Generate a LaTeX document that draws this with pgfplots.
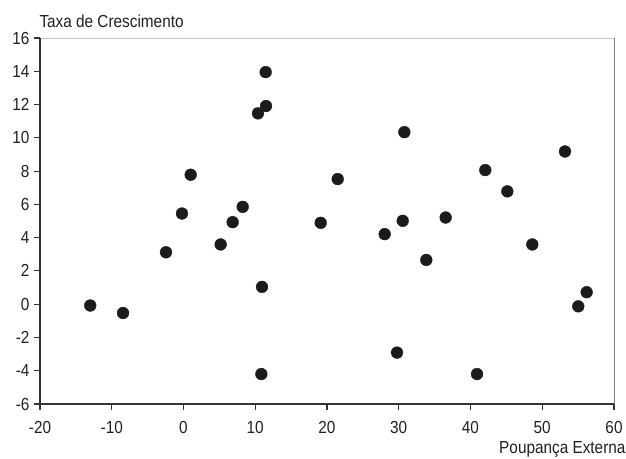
\documentclass[border=0pt]{standalone}
\usepackage{fontspec}
\setmainfont{Liberation Sans}[FakeStretch=0.88]
\usepackage{pgfplots}
\pgfplotsset{compat=1.18}
\definecolor{txt}{HTML}{231F20}
\definecolor{dot}{HTML}{1C1A1B}
\definecolor{axdark}{HTML}{333333}
\begin{document}
\begin{tikzpicture}
\path[use as bounding box] (-40bp,-55bp) rectangle (586bp,404bp);
\begin{axis}[
  at={(0,0)}, anchor=south west,
  width=574bp, height=366bp, scale only axis,
  xmin=-20, xmax=60, ymin=-6, ymax=16,
  xtick={-20,-10,...,60}, ytick={-6,-4,...,16},
  tick align=outside, xtick pos=bottom, ytick pos=left,
  major tick length=6bp,
  tick style={axdark, line width=1.1pt},
  axis line style={draw=none},
  /pgf/number format/assume math mode=true,
  tick label style={font=\fontsize{17.5}{20}\selectfont, text=txt},
  xticklabel style={yshift=-8bp},
  yticklabel style={xshift=-1bp},
  label style={font=\fontsize{17.5}{20}\selectfont, text=txt},
  xlabel={Poupança Externa},
  xlabel style={at={(rel axis cs:1,0)}, anchor=base east, xshift=15bp, yshift=-49bp},
  ylabel={Taxa de Crescimento},
  ylabel style={rotate=-90, at={(rel axis cs:0,1)}, anchor=base west, xshift=-4bp, yshift=10bp},
  clip=false,
]
\draw[color=black!22, line width=0.9pt] (rel axis cs:0,1) -- (rel axis cs:1,1);
\draw[color=black!50, line width=0.9pt] (rel axis cs:1,1) -- (rel axis cs:1,0);
\draw[axdark, line width=1.2pt] (rel axis cs:0,1) -- (rel axis cs:0,0) -- (rel axis cs:1,0);
\addplot[only marks, mark=*, mark size=5.9bp, color=dot] coordinates {
(-13.0,-0.08) (-8.43,-0.53) (-2.44,3.12) (5.18,3.59) (10.94,1.04) (10.85,-4.2)
(-0.21,5.45) (1.0,7.78) (6.85,4.93) (8.25,5.85) (10.38,11.47) (11.5,11.91)
(11.45,13.95) (19.12,4.89) (21.49,7.52) (30.78,10.34) (30.55,5.01) (28.04,4.21)
(36.54,5.21) (42.06,8.06) (45.13,6.78) (53.17,9.18) (33.84,2.66) (48.61,3.59)
(56.19,0.72) (55.02,-0.13) (29.76,-2.91) (40.91,-4.2)
};
\end{axis}
\end{tikzpicture}
\end{document}
